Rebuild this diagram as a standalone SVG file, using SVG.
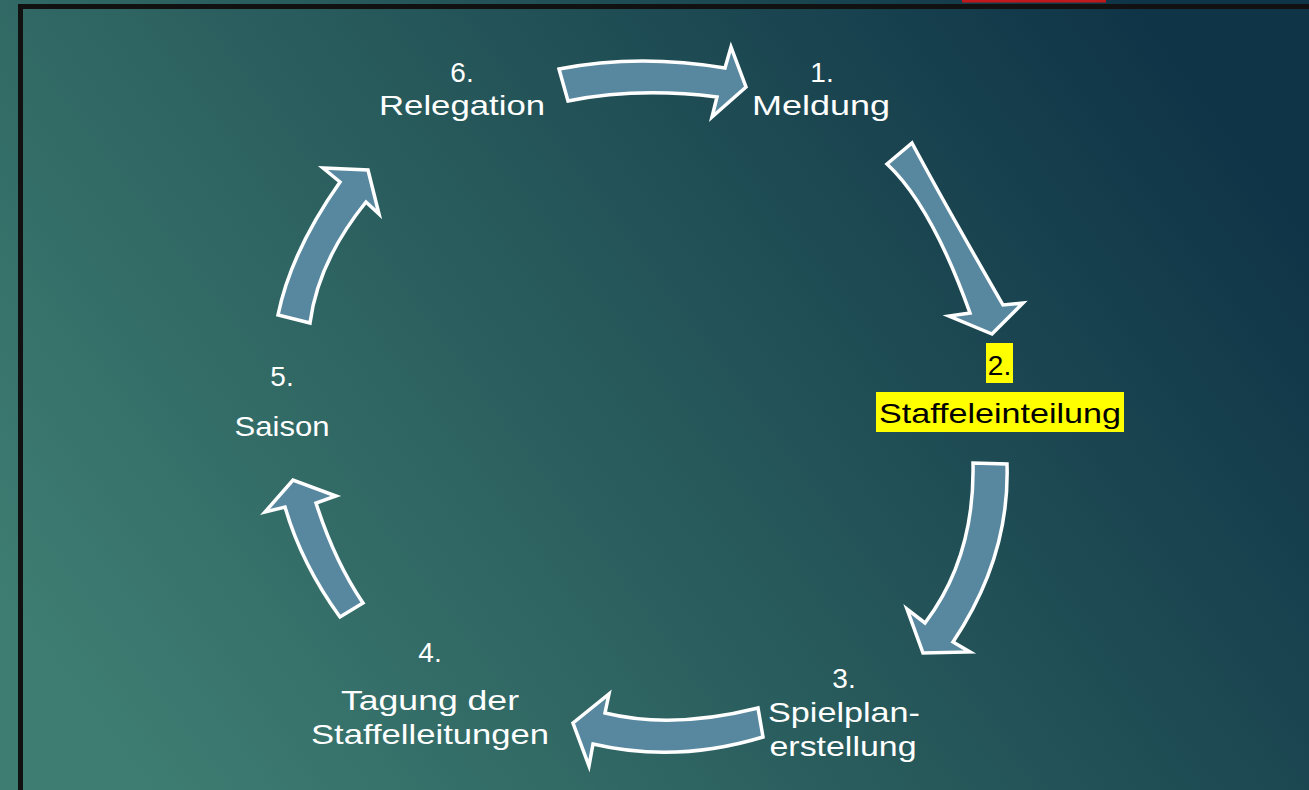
<svg xmlns="http://www.w3.org/2000/svg" width="1309" height="790" viewBox="0 0 1309 790">
<defs>
<linearGradient id="bg" x1="0" y1="0.75" x2="1" y2="0.3">
<stop offset="0" stop-color="#3e7d72"/>
<stop offset="0.5" stop-color="#27595b"/>
<stop offset="1" stop-color="#0f3447"/>
</linearGradient>
<style>
.arr{fill:#58889f;stroke:#ffffff;stroke-width:3.5;stroke-linejoin:miter}
.lbl{font-family:"Liberation Sans",Arial,sans-serif;font-size:28px;fill:#ffffff;text-anchor:middle}
.hl{fill:#ffff00}
.dark{fill:#000000}
</style>
</defs>
<rect x="0" y="0" width="1309" height="790" fill="url(#bg)"/>
<rect x="962" y="0" width="144" height="2.5" fill="#c0181b"/>
<rect x="18" y="4" width="1291" height="5" fill="#111111"/>
<rect x="18" y="4" width="5" height="786" fill="#111111"/>

<g id="connectors">
<path id="arrow-6-1" class="arr" d="M559,69 Q638,53.5 725,68 L731,47 L746,87 L712,117 L717,97 Q637.5,87 568,101 Z"/>
<path id="arrow-1-2" class="arr" d="M912,143 Q942.5,200 1003,305 L1023,303 L992,334 L949,316 L970,313 Q931.5,205.5 887,164 Z"/>
<path id="arrow-2-3" class="arr" d="M1007,464 Q1010,557 953,642 L970,652 L923,653 L907,609 L925,623 Q975,557 973,463 Z"/>
<path id="arrow-3-4" class="arr" d="M758,708 Q672.5,729.5 605,713 L609,694 L573,723 L589,766 L593,744 Q676,763.5 763,737 Z"/>
<path id="arrow-4-5" class="arr" d="M363,603 Q334.5,561 316,503 L336,496 L293,480 L265,512 L285,507 Q301.5,564 340,617 Z"/>
<path id="arrow-5-6" class="arr" d="M278,315 Q291,251.5 340,182 L323,168 L368,170 L379,214 L366,202 Q318,261.5 310,323 Z"/>
</g>

<g id="node-1">
<text class="lbl" x="822" y="82">1.</text>
<text class="lbl" x="821" y="115" textLength="138" lengthAdjust="spacingAndGlyphs">Meldung</text>
</g>
<g id="node-2">
<rect class="hl" x="986" y="343" width="27" height="40"/>
<rect class="hl" x="876" y="392" width="248" height="40"/>
<text class="lbl dark" x="999.5" y="375">2.</text>
<text class="lbl dark" x="1000" y="423" textLength="242" lengthAdjust="spacingAndGlyphs">Staffeleinteilung</text>
</g>
<g id="node-3">
<text class="lbl" x="844" y="688">3.</text>
<text class="lbl" x="844" y="722" textLength="152" lengthAdjust="spacingAndGlyphs">Spielplan-</text>
<text class="lbl" x="843" y="756" textLength="147" lengthAdjust="spacingAndGlyphs">erstellung</text>
</g>
<g id="node-4">
<text class="lbl" x="430" y="662">4.</text>
<text class="lbl" x="430" y="710" textLength="178" lengthAdjust="spacingAndGlyphs">Tagung der</text>
<text class="lbl" x="430" y="744" textLength="238" lengthAdjust="spacingAndGlyphs">Staffelleitungen</text>
</g>
<g id="node-5">
<text class="lbl" x="282" y="386">5.</text>
<text class="lbl" x="282" y="436" textLength="95" lengthAdjust="spacingAndGlyphs">Saison</text>
</g>
<g id="node-6">
<text class="lbl" x="462" y="82">6.</text>
<text class="lbl" x="462" y="115" textLength="166" lengthAdjust="spacingAndGlyphs">Relegation</text>
</g>
</svg>
